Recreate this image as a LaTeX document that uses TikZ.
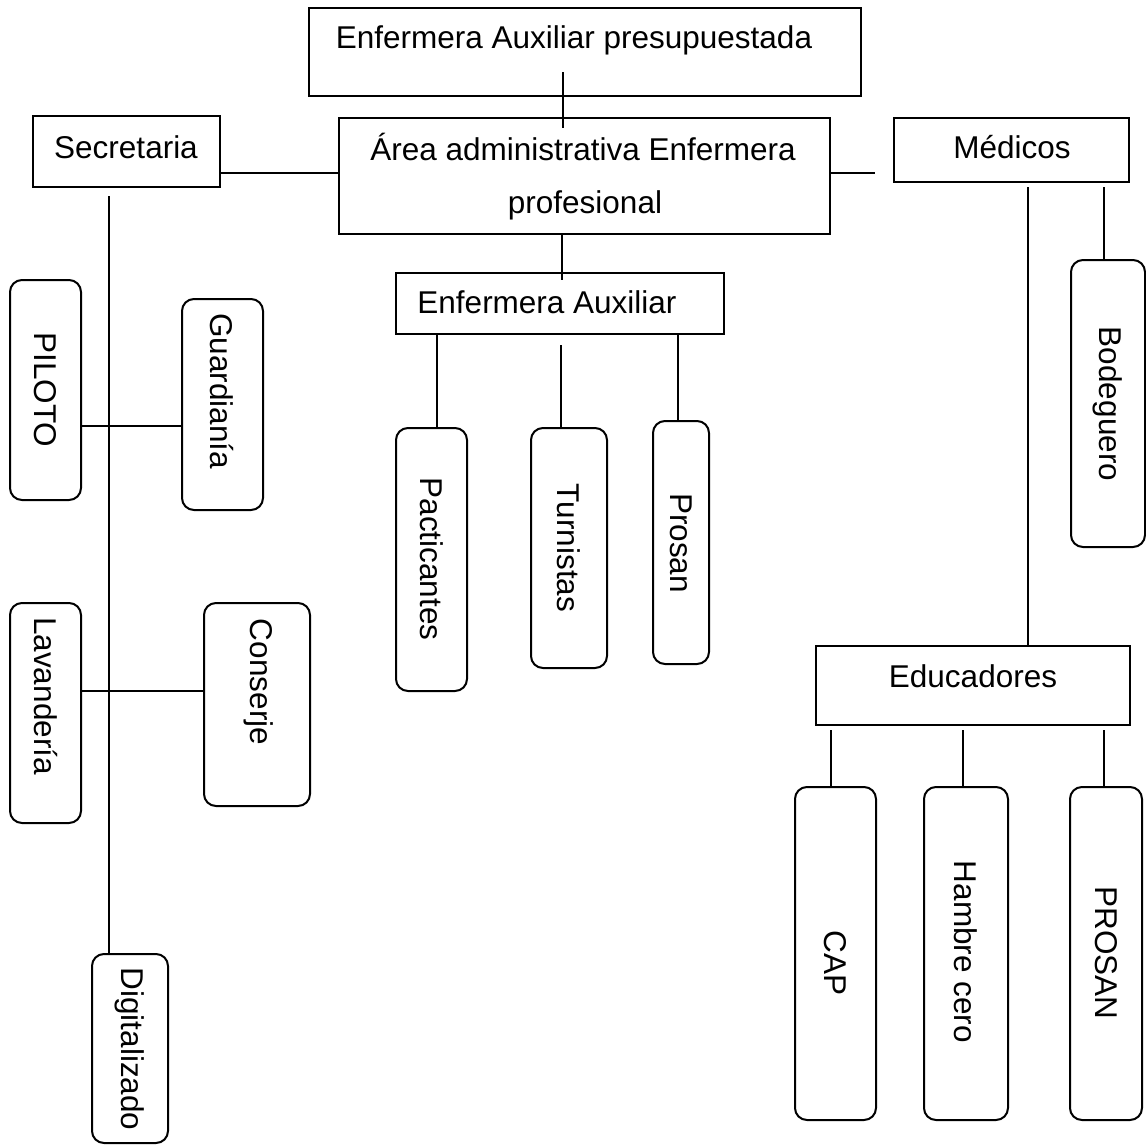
\documentclass[tikz,border=0pt]{standalone}
\usepackage{fontspec}
\setmainfont{Liberation Sans}
\begin{document}
\begin{tikzpicture}[x=0.5pt,y=-0.5pt,
  sq/.style 2 args={draw, line width=1pt, rectangle, minimum width=#1, minimum height=#2, inner sep=0pt, outer sep=0pt},
  rb/.style 2 args={sq={#1}{#2}, rounded corners=6pt},
  ln/.style={line width=1pt},
  lbl/.style={font=\fontsize{15.75}{19}\selectfont, inner sep=0pt, anchor=base},
  vlbl/.style={font=\fontsize{15.75}{19}\selectfont, inner sep=0pt, rotate=-90}]
\useasboundingbox (0,0) rectangle (1146,1148);

% boxes
\node[sq={276pt}{44pt}] (top) at (585,52) {};
\node[sq={245.5pt}{58pt}] (admin) at (584.5,176) {};
\node[sq={93.5pt}{35.5pt}] (secr) at (126.5,151.5) {};
\node[sq={117.5pt}{32pt}] (med) at (1011.5,150) {};
\node[sq={164pt}{30.5pt}] (ea) at (560,303.5) {};
\node[sq={157pt}{39.5pt}] (educ) at (973,685.5) {};

\node[rb={35.5pt}{110pt}] (pil) at (45.5,390) {};
\node[rb={40.5pt}{105.5pt}] (gua) at (222.5,404.5) {};
\node[rb={35.5pt}{110pt}] (lav) at (45.5,713) {};
\node[rb={53pt}{101.5pt}] (con) at (257,704.5) {};
\node[rb={38pt}{94.5pt}] (dig) at (130,1048.5) {};
\node[rb={35.5pt}{131.5pt}] (pac) at (431.5,559.5) {};
\node[rb={38pt}{120pt}] (tur) at (569,548) {};
\node[rb={28pt}{121.5pt}] (pro) at (681,542.5) {};
\node[rb={37pt}{143.5pt}] (bod) at (1108,403.5) {};
\node[rb={40.5pt}{166.5pt}] (cap) at (835.5,953.5) {};
\node[rb={42pt}{166.5pt}] (ham) at (966,953.5) {};
\node[rb={36pt}{166.5pt}] (pros) at (1106,953.5) {};

% texts
\node[lbl] (ttop) at (574,48) {Enfermera Auxiliar presupuestada};
\node[lbl] (tadm1) at (583,160) {Área administrativa Enfermera};
\node[lbl] (tadm2) at (585,213) {profesional};
\node[lbl] (tsec) at (126,158) {Secretaria};
\node[lbl] (tmed) at (1012,158) {Médicos};
\node[lbl] (tea) at (547,313) {Enfermera Auxiliar};
\node[lbl] (tedu) at (973,687) {Educadores};

\node[vlbl] (tpil) at (45.5,390) {PILOTO};
\node[vlbl] (tgua) at (222,391) {Guardianía};
\node[vlbl] (tlav) at (45.5,696) {Lavandería};
\node[vlbl] (tcon) at (259,682) {Conserje};
\node[vlbl] (tdig) at (130,1049) {Digitalizado};
\node[vlbl] (tpac) at (431.5,559) {Pacticantes};
\node[vlbl] (ttur) at (569,548) {Turnistas};
\node[vlbl] (tpro) at (681,543) {Prosan};
\node[vlbl] (tbod) at (1108,404) {Bodeguero};
\node[vlbl] (tcap) at (835.5,963) {CAP};
\node[vlbl] (tham) at (966,952) {Hambre cero};
\node[vlbl] (tpros) at (1106,953) {PROSAN};

% connector end points
\coordinate (a1) at (563,72);  \coordinate (a2) at (563,128);
\coordinate (b1) at (562,234); \coordinate (b2) at (562,280);
\coordinate (s1) at (220,173); \coordinate (s2) at (339,173);
\coordinate (m1) at (830,173); \coordinate (m2) at (875,173);
\coordinate (v1) at (109,196); \coordinate (v2) at (109,954);
\coordinate (e1) at (437,334); \coordinate (e2) at (437,428);
\coordinate (e3) at (561,345); \coordinate (e4) at (561,428);
\coordinate (e5) at (678,334); \coordinate (e6) at (678,421);
\coordinate (d1) at (1028,187); \coordinate (d2) at (1028,646);
\coordinate (d3) at (1104,187); \coordinate (d4) at (1104,260);
\coordinate (f1) at (831,730); \coordinate (f2) at (831,787);
\coordinate (f3) at (963,730); \coordinate (f4) at (963,787);
\coordinate (f5) at (1104,730); \coordinate (f6) at (1104,787);

\draw[ln] (a1) -- (a2);
\draw[ln] (b1) -- (b2);
\draw[ln] (s1) -- (s2);
\draw[ln] (m1) -- (m2);
\draw[ln] (v1) -- (v2);
\draw[ln] (pil.east |- 0,426) -- (gua.west |- 0,426);
\draw[ln] (lav.east |- 0,691) -- (con.west |- 0,691);
\draw[ln] (e1) -- (e2);
\draw[ln] (e3) -- (e4);
\draw[ln] (e5) -- (e6);
\draw[ln] (d1) -- (d2);
\draw[ln] (d3) -- (d4);
\draw[ln] (f1) -- (f2);
\draw[ln] (f3) -- (f4);
\draw[ln] (f5) -- (f6);
\end{tikzpicture}
\end{document}
